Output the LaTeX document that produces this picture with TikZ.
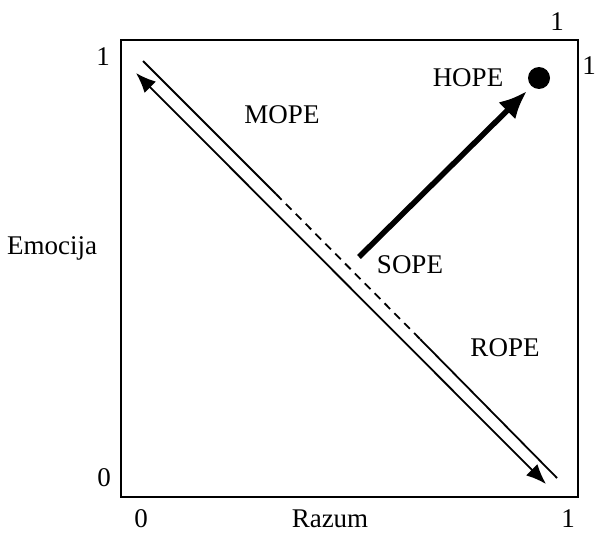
\documentclass[tikz,border=0pt]{standalone}
\usepackage{fontspec}
\setmainfont{Liberation Serif}
\usetikzlibrary{arrows.meta}
\begin{document}
\begin{tikzpicture}[x=1pt,y=-1pt,
  lbl/.style={font=\fontsize{27}{29}\selectfont, inner sep=0pt},
  thinline/.style={line width=1.8pt},
  frame/.style={line width=2.4pt}]
\useasboundingbox (0,0) rectangle (597,535);
\draw[frame] (121,40) rectangle (578,497);
% upper line: solid, dashed, solid
\coordinate (u1) at (143,61);
\coordinate (u2) at (276,194);
\coordinate (u3) at (420,339);
\coordinate (u4) at (557,478);
\draw[thinline] (u1) -- (u2);
\draw[thinline, dash pattern=on 8pt off 6pt] (u2) -- (u3);
\draw[thinline] (u3) -- (u4);
% lower double-headed arrow
\coordinate (a1) at (136,73);
\coordinate (a2) at (546,484);
\draw[thinline, {Latex[length=20pt,width=16pt]}-{Latex[length=20pt,width=16pt]}] (a1) -- (a2);
% HOPE point
\node[circle, fill=black, minimum size=22pt, inner sep=0pt] (dot) at (539,78) {};
\coordinate (s) at (359,257);
\coordinate (t) at (527,91);
\draw[line width=5.5pt, -{Latex[length=28pt,width=24pt]}] (s) -- (t);
% labels
\node[lbl] (mope) at (282,115) {MOPE};
\node[lbl] (hope) at (468,78) {HOPE};
\node[lbl] (sope) at (410,265) {SOPE};
\node[lbl] (rope) at (505,348) {ROPE};
\node[lbl] (emo) at (52,248) {Emocija};
\node[lbl] (raz) at (330,519) {Razum};
\node[lbl] (y1) at (103,57) {1};
\node[lbl] (y0) at (104,478) {0};
\node[lbl] (x0) at (141,519) {0};
\node[lbl] (x1) at (568,519) {1};
\node[lbl] (t1) at (557,22) {1};
\node[lbl] (r1) at (589,66) {1};
\end{tikzpicture}
\end{document}
